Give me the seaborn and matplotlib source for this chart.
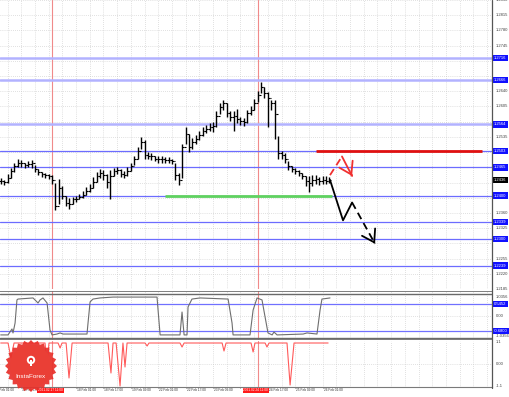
import numpy as np
import pandas as pd
import matplotlib
matplotlib.use("Agg")
import matplotlib.pyplot as plt
from matplotlib.lines import Line2D
from matplotlib.patches import Polygon, Circle, Rectangle
import seaborn as sns

# ---------------- data ----------------
# H2 bars, hours relative to 18 Feb 01:00
bar_close = [1.2433, 1.2431, 1.2440, 1.2456, 1.2467, 1.2476, 1.2474, 1.2470, 1.2472, 1.2476,
             1.2460, 1.2454, 1.2449, 1.2447, 1.2445, 1.2436, 1.2377, 1.2418, 1.2400, 1.2384,
             1.2381, 1.2391, 1.2393, 1.2397, 1.2402, 1.2411, 1.2418, 1.2431, 1.2445, 1.2451,
             1.2447, 1.2431, 1.2445, 1.2456, 1.2458, 1.2449, 1.2447, 1.2456, 1.2467, 1.2483,
             1.2503, 1.2524, 1.2494, 1.2492, 1.2490, 1.2485, 1.2483, 1.2483, 1.2481, 1.2481,
             1.2479, 1.2447, 1.2436, 1.2512, 1.2542, 1.2512, 1.2524, 1.2530, 1.2540, 1.2549,
             1.2553, 1.2558, 1.2560, 1.2582, 1.2603, 1.2612, 1.2589, 1.2580, 1.2582, 1.2576,
             1.2571, 1.2569, 1.2589, 1.2596, 1.2612, 1.2632, 1.2650, 1.2637, 1.2625, 1.2612,
             1.2587, 1.2497, 1.2494, 1.2485, 1.2467, 1.2460, 1.2456, 1.2451, 1.2445, 1.2433,
             1.2429, 1.2436, 1.2438, 1.2433, 1.2436, 1.2433, 1.2436]
bar_high = [1.2440, 1.2436, 1.2449, 1.2463, 1.2474, 1.2483, 1.2481, 1.2476, 1.2479, 1.2481,
            1.2470, 1.2460, 1.2454, 1.2451, 1.2449, 1.2447, 1.2429, 1.2438, 1.2422, 1.2400,
            1.2395, 1.2397, 1.2400, 1.2404, 1.2411, 1.2420, 1.2427, 1.2442, 1.2454, 1.2460,
            1.2458, 1.2449, 1.2458, 1.2463, 1.2465, 1.2460, 1.2456, 1.2465, 1.2476, 1.2492,
            1.2512, 1.2535, 1.2528, 1.2501, 1.2497, 1.2492, 1.2490, 1.2490, 1.2488, 1.2488,
            1.2485, 1.2474, 1.2451, 1.2519, 1.2558, 1.2542, 1.2533, 1.2540, 1.2549, 1.2558,
            1.2562, 1.2567, 1.2569, 1.2594, 1.2612, 1.2621, 1.2614, 1.2594, 1.2594, 1.2600,
            1.2580, 1.2578, 1.2598, 1.2607, 1.2623, 1.2641, 1.2661, 1.2650, 1.2639, 1.2621,
            1.2619, 1.2537, 1.2503, 1.2499, 1.2479, 1.2467, 1.2463, 1.2458, 1.2451, 1.2445,
            1.2445, 1.2447, 1.2447, 1.2442, 1.2445, 1.2445, 1.2442]
bar_low = [1.2427, 1.2424, 1.2429, 1.2440, 1.2454, 1.2465, 1.2465, 1.2463, 1.2465, 1.2463,
           1.2454, 1.2447, 1.2442, 1.2440, 1.2438, 1.2427, 1.2366, 1.2381, 1.2391, 1.2375,
           1.2370, 1.2381, 1.2386, 1.2391, 1.2395, 1.2402, 1.2409, 1.2418, 1.2431, 1.2440,
           1.2436, 1.2418, 1.2393, 1.2445, 1.2449, 1.2442, 1.2440, 1.2445, 1.2456, 1.2470,
           1.2485, 1.2508, 1.2485, 1.2483, 1.2481, 1.2479, 1.2476, 1.2476, 1.2474, 1.2474,
           1.2472, 1.2436, 1.2424, 1.2440, 1.2519, 1.2501, 1.2508, 1.2519, 1.2528, 1.2537,
           1.2544, 1.2549, 1.2546, 1.2558, 1.2587, 1.2598, 1.2580, 1.2571, 1.2549, 1.2567,
           1.2562, 1.2560, 1.2567, 1.2585, 1.2598, 1.2616, 1.2637, 1.2625, 1.2558, 1.2598,
           1.2530, 1.2485, 1.2485, 1.2476, 1.2458, 1.2454, 1.2449, 1.2445, 1.2438, 1.2422,
           1.2409, 1.2422, 1.2427, 1.2424, 1.2427, 1.2427, 1.2429]
first_bar_hour = -44
bar_hours_step = 2

price_tick_values = [1.2185, 1.2220, 1.2255, 1.2290, 1.2325, 1.2360, 1.2395, 1.2430,
                     1.2465, 1.2500, 1.2535, 1.2570, 1.2605, 1.2640, 1.2675, 1.2710,
                     1.2745, 1.2780, 1.2815, 1.2850]

level_prices = [1.2716, 1.2666, 1.2564, 1.2503, 1.2465, 1.2400, 1.2339, 1.2300, 1.2239]
level_strong = [True, True, True, False, False, False, False, False, False]
current_price = 1.2436

resistance_price = 1.2503
resistance_span = (140.1, 237.1)
support_price = 1.2400
support_span = (52.0, 149.5)

# forecast paths (hours, price)
red_path_hours = [148.3, 155.3, 161.2]
red_path_prices = [1.2447, 1.2490, 1.2445]
black_path_hours = [148.3, 155.9, 161.2, 174.6]
black_path_prices = [1.2436, 1.2343, 1.2384, 1.2289]

time_tick_hours = [-48, -32, -16, 0, 16, 32, 48, 64, 80, 96, 112, 128, 144]
time_tick_labels = ["16 Feb 01:00", "16 Feb 17:00", "17 Feb 09:00", "18 Feb 01:00",
                    "18 Feb 17:00", "19 Feb 09:00", "22 Feb 01:00", "22 Feb 17:00",
                    "23 Feb 09:00", "24 Feb 01:00", "24 Feb 17:00", "25 Feb 09:00",
                    "26 Feb 01:00"]
cursor_hours = [-14, 106]
cursor_labels = ["2021.02.17 11:00", "2021.02.24 11:00"]

osc_hours = [-44, -39.7, -37.4, -36.8, -35.6, -34.5, -33.9, -25.1, -22.8, -22.2, -21.0, -19.3,
             -16.9, -15.2, -14.0, -11.1, -9.3, -7.6, 6.4, 7.0, 8.2, 9.9, 14.0, 21.6, 47.3,
             47.9, 49.1, 60.7, 61.9, 63.1, 64.8, 65.4, 67.7, 72.4, 88.8, 91.1, 91.7, 101.6,
             103.4, 105.7, 108.6, 110.4, 112.1, 114.5, 115.6, 117.4, 132.6, 134.9, 140.7,
             142.5, 143.6, 148.3]
osc_values = [-0.86, -0.86, -0.59, -0.77, -0.32, 0.73, 0.77, 0.82, 0.64, 0.59, 0.73, 0.82,
              0.59, -0.64, -0.86, -0.82, -0.77, -0.82, -0.82, -0.32, 0.64, 0.77, 0.82, 0.86, 0.86,
              0.27, -0.86, -0.86, 0.18, -0.86, -0.86, 0.41, 0.77, 0.82, 0.77, -0.32, -0.86, -0.86,
              0.27, 0.82, 0.73, -0.05, -0.77, -0.86, -0.73, -0.86, -0.82, -0.77, -0.82,
              0.27, 0.77, 0.82]
osc_levels = [0.545, -0.68]
osc_level_labels = ["0.5452", "-0.6800"]
osc_axis_values = [0.86, 0.0, -0.92]
osc_axis_labels = ["1.0356", "0.00", "-1.0356"]

red_hours = [-44, -39.7, -38.0, -36.2, -18.1, -16.9, -15.8, -10.5, -9.3, -8.2, -5.8, -4.1,
             -2.3, 18.7, 20.4, 21.6, 23.4, 25.7, 27.4, 28.6, 29.8, 40.3, 41.5, 42.6, 60.7,
             61.9, 63.1, 85.3, 86.4, 87.6, 102.2, 103.4, 104.5, 110.4, 111.5, 112.7, 123.2,
             125.0, 127.3, 147.2]
red_values = [1.05, 1.05, 0.30, 1.05, 1.05, -0.05, 1.05, 1.05, 0.80, 1.05, 1.05, -0.70,
              1.05, 1.05, -0.45, 1.05, 1.05, -1.10, 1.05, -0.15, 1.05, 1.05, 0.90, 1.05, 1.05,
              0.85, 1.05, 1.05, 0.65, 1.05, 1.05, 0.60, 1.05, 1.05, 0.85, 1.05, 1.05,
              -1.05, 1.05, 1.05]
red_axis_values = [1.1, 0.0, -1.1]
red_axis_labels = ["1.1", "0.00", "-1.1"]

# ---------------- figure ----------------
sns.set_theme(style="white")
plt.rcParams["font.family"] = ["Liberation Sans", "DejaVu Sans"]

W, H = 510, 397
fig = plt.figure(figsize=(W / 100, H / 100), dpi=100)
fig.patch.set_facecolor("white")


def axes_px(x0, y0, x1, y1):
    return fig.add_axes([x0 / W, 1 - y1 / H, (x1 - x0) / W, (y1 - y0) / H])


XLIM = (-44.4, 242.9)
ax = axes_px(0, 0, 492, 289)
ax_osc = axes_px(0, 291, 492, 340)
ax_red = axes_px(0, 341, 492, 387)

grid_hours = np.arange(-40, 244, 8)
grid_kw = dict(color="#c4c4c4", ls=(0, (1, 2)), lw=0.5)
for a in (ax, ax_osc, ax_red):
    a.set_facecolor("white")
    a.set_xlim(*XLIM)
    a.set_xticks(grid_hours)
    a.tick_params(length=0, labelleft=False, labelbottom=False)
    a.grid(True, **grid_kw)
    for s in a.spines.values():
        s.set_visible(False)
    for h in cursor_hours:
        a.axvline(h, color="#f08a8a", lw=0.8, zorder=1)

# ---- main price panel ----
ax.set_ylim(1.2194, 1.28466)
ax.set_yticks(price_tick_values)
df = pd.DataFrame({"close": bar_close, "high": bar_high, "low": bar_low})
df["hour"] = first_bar_hour + bar_hours_step * np.arange(len(df))
df["open"] = df["close"].shift(1).fillna(df["close"])

for p, strong in zip(level_prices, level_strong):
    if strong:
        ax.axhline(p, color="#b2b2ff", lw=1.8, zorder=2)
    else:
        ax.axhline(p, color="#6c6cff", lw=0.9, zorder=2)

ax.hlines(resistance_price, *resistance_span, color="#e01010", lw=2.0, zorder=3)
ax.hlines(support_price, *support_span, color="#5fd25f", lw=2.0, zorder=3)

ax.vlines(df["hour"], df["low"], df["high"], color="black", lw=1.0, zorder=4)
ax.hlines(df["open"], df["hour"] - 1.0, df["hour"], color="black", lw=0.8, zorder=4)
ax.hlines(df["close"], df["hour"], df["hour"] + 1.0, color="black", lw=0.8, zorder=4)

# forecast arrows
ax.plot(red_path_hours[:2], red_path_prices[:2], color="#f03030", lw=1.3,
        ls=(0, (4, 2.5)), zorder=5, solid_capstyle="butt")
ax.plot(red_path_hours[1:], red_path_prices[1:], color="#f03030", lw=1.3, zorder=5)
ax.plot(black_path_hours[:3], black_path_prices[:3], color="black", lw=1.3, zorder=5)
ax.plot(black_path_hours[2:], black_path_prices[2:], color="black", lw=1.3,
        ls=(0, (4, 2.5)), zorder=5)


def head(a, xs, ys, color):
    dx, dy = xs[-1] - xs[-2], ys[-1] - ys[-2]
    a.annotate("", xy=(xs[-1], ys[-1]), xytext=(xs[-1] - 0.05 * dx, ys[-1] - 0.05 * dy),
               arrowprops=dict(arrowstyle="->,head_length=0.7,head_width=0.45",
                               color=color, lw=1.3), zorder=6)


head(ax, red_path_hours, red_path_prices, "#f03030")
head(ax, black_path_hours, black_path_prices, "black")

# price axis labels (those hidden behind a level box are not shown)
ytr = ax.get_yaxis_transform()
boxed = level_prices + [current_price]
for v in price_tick_values:
    if min(abs(v - b) for b in boxed) < 0.0011:
        continue
    ax.text(1.008, v, f"{v:.4f}", transform=ytr, fontsize=3.0, color="#404040",
            ha="left", va="center", clip_on=False, zorder=7)
for p in level_prices:
    ax.text(1.004, p, f"{p:.4f}", transform=ytr, fontsize=3.0, color="white",
            ha="left", va="center", clip_on=False, zorder=8,
            bbox=dict(boxstyle="square,pad=0.3", fc="#1010ff", ec="none"))
ax.text(1.004, current_price, f"{current_price:.4f}", transform=ytr, fontsize=3.0,
        color="white", ha="left", va="center", clip_on=False, zorder=8,
        bbox=dict(boxstyle="square,pad=0.3", fc="black", ec="none"))

# ---- oscillator panel ----
ax_osc.set_ylim(-1.091, 1.136)
ax_osc.set_yticks([0.0])
for v in (1.0, -1.0):
    ax_osc.axhline(v, color="#6a6a6a", lw=1.0, zorder=2)
for v in osc_levels:
    ax_osc.axhline(v, color="#7070ff", lw=0.9, zorder=2)
ax_osc.axhline(1.136, color="#6a6a6a", lw=1.2, zorder=2)
ax_osc.axhline(-1.091, color="#6a6a6a", lw=1.2, zorder=2)
sns.lineplot(x=osc_hours, y=osc_values, ax=ax_osc, color="#6e6e6e", lw=0.8,
             estimator=None, sort=False, zorder=4)
ytr2 = ax_osc.get_yaxis_transform()
for v, lab in zip(osc_axis_values, osc_axis_labels):
    ax_osc.text(1.008, v, lab, transform=ytr2, fontsize=3.0, color="#404040",
                ha="left", va="center", clip_on=False)
for v, lab in zip(osc_levels, osc_level_labels):
    ax_osc.text(1.004, v, lab, transform=ytr2, fontsize=3.0, color="white",
                ha="left", va="center", clip_on=False, zorder=8,
                bbox=dict(boxstyle="square,pad=0.3", fc="#1010ff", ec="none"))

# ---- red indicator panel ----
ax_red.set_ylim(-1.15, 1.15)
ax_red.set_yticks([0.0])
sns.lineplot(x=red_hours, y=red_values, ax=ax_red, color="#ff5a5a", lw=0.8,
             estimator=None, sort=False, zorder=4)
ax_red.spines["bottom"].set_visible(True)
ax_red.spines["bottom"].set_color("#7a7a7a")
ax_red.spines["bottom"].set_linewidth(0.8)
ytr3 = ax_red.get_yaxis_transform()
for v, lab in zip(red_axis_values, red_axis_labels):
    ax_red.text(1.008, v, lab, transform=ytr3, fontsize=3.0, color="#404040",
                ha="left", va="center", clip_on=False)

# time axis (labels fully hidden under the cursor boxes are not drawn)
xtr = ax_red.get_xaxis_transform()
for h, lab in zip(time_tick_hours, time_tick_labels):
    ax_red.plot([h, h], [0, -0.03], transform=xtr, color="#7a7a7a", lw=0.5, clip_on=False)
    if any(0 <= c - h < 12 for c in cursor_hours):
        continue
    ax_red.text(h + 0.6, -0.03, lab, transform=xtr, fontsize=2.3, color="#303030",
                ha="left", va="top", clip_on=False)
for h, lab in zip(cursor_hours, cursor_labels):
    ax_red.text(h - 1.0, -0.03, lab, transform=xtr, fontsize=2.3, color="white",
                ha="center", va="top", clip_on=False, zorder=9,
                bbox=dict(boxstyle="square,pad=0.25", fc="#ff1a1a", ec="none"))

# right price-scale line
fig.add_artist(Line2D([492.5 / W, 492.5 / W], [1 - 388 / H, 1.0], color="#555555", lw=0.9))

# ---- InstaForex logo ----
ov = fig.add_axes([0, 0, 1, 1], facecolor="none")
ov.set_xlim(0, W)
ov.set_ylim(H, 0)
ov.axis("off")
cx, cy = 31, 366
ang = np.linspace(0, 2 * np.pi, 49)[:-1]
rad = np.where(np.arange(48) % 2 == 0, 26, 23)
ov.add_patch(Polygon(np.c_[cx + rad * np.cos(ang), cy + rad * np.sin(ang)],
                     closed=True, fc="#e8302a", ec="none", alpha=0.92, zorder=2))
ov.add_patch(Circle((cx, cy), 21, fc="#ea3f36", ec="none", zorder=3))
ov.add_patch(Circle((cx, cy - 6), 4.2, fc="white", ec="none", zorder=4))
ov.add_patch(Circle((cx, cy - 6), 2.2, fc="#e8302a", ec="none", zorder=5))
ov.add_patch(Rectangle((cx - 0.8, cy - 6), 1.6, 6, fc="white", ec="none", zorder=5))
ov.text(cx, cy + 10, "InstaForex", color="white", fontsize=4.6, ha="center",
        va="center", zorder=6)

fig.savefig("out.png", dpi=100)
